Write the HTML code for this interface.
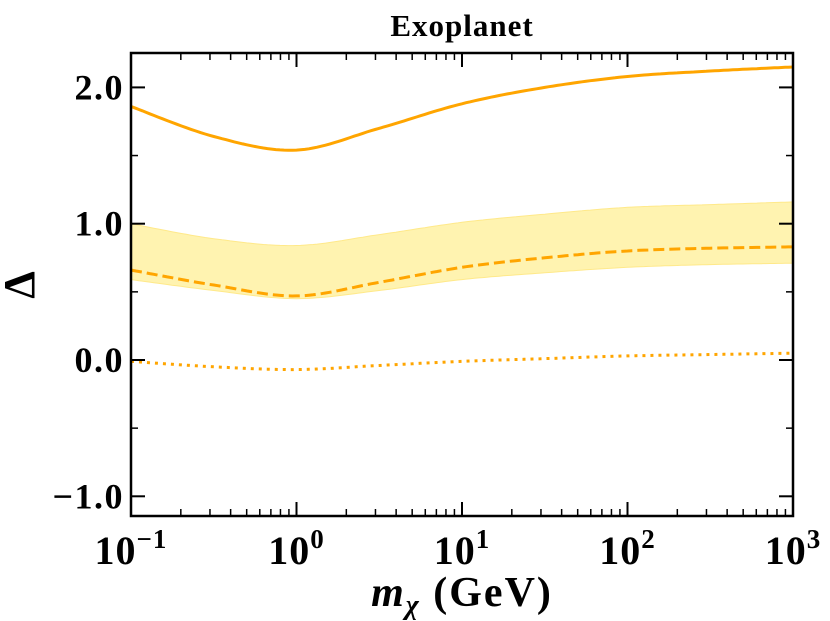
<!DOCTYPE html>
<html><head><meta charset="utf-8">
<style>
body{margin:0;background:#fff;}
svg{display:block;font-family:"Liberation Serif",serif;font-weight:bold;}
</style></head>
<body>
<svg id="chart" width="830" height="621" viewBox="0 0 830 621">
<text x="462" y="36" text-anchor="middle" font-size="31" letter-spacing="1">Exoplanet</text>
<g id="band"></g><g id="lines"></g><g id="ticks"></g>
<rect x="131" y="53" width="662" height="463" fill="none" stroke="#000" stroke-width="2.5"/>
<text x="462" y="606" text-anchor="middle" font-size="42" letter-spacing="2"><tspan font-style="italic">m</tspan><tspan font-style="italic" font-size="28" dy="8">χ</tspan><tspan dy="-8"> (GeV)</tspan></text>
<text x="34" y="285" text-anchor="middle" font-size="44" transform="rotate(-90 34 285)">Δ</text>
</svg>
<script>
const logMass = [-1,-0.5,0,0.5,1,1.5,2,2.5,3];
const solidVals = [1.86,1.64,1.54,1.70,1.88,2.00,2.08,2.12,2.15];
const dashedVals = [0.66,0.55,0.47,0.57,0.68,0.75,0.80,0.82,0.83];
const bandUpper = [1.00,0.89,0.84,0.92,1.01,1.07,1.12,1.14,1.16];
const bandLower = [0.59,0.51,0.45,0.51,0.59,0.64,0.68,0.70,0.71];
const dottedVals = [-0.01,-0.05,-0.07,-0.04,-0.01,0.01,0.03,0.04,0.05];
const yTicks = [-1,0,1,2];
const yTickLabels = ["\u22121.0","0.0","1.0","2.0"];
const xDecades = [-1,0,1,2,3];

const NS="http://www.w3.org/2000/svg";
const X0=131,X1=793,Y0=53,Y1=516;
const xs=v=>X0+(v+1)/4*(X1-X0);
const ys=v=>360-v*136.3;
function mk(tag,attrs,parent){const e=document.createElementNS(NS,tag);for(const k in attrs)e.setAttribute(k,attrs[k]);parent.appendChild(e);return e;}
function pts(vals){
  const out=[];const n=logMass.length;
  for(let i=0;i<n-1;i++){
    const p0=i>0?i-1:i,p3=i<n-2?i+2:i+1;
    for(let s=0;s<20;s++){const t=s/20;
      const f=(a,b,c,d)=>0.5*((2*b)+(-a+c)*t+(2*a-5*b+4*c-d)*t*t+(-a+3*b-3*c+d)*t*t*t);
      out.push([xs(f(logMass[p0],logMass[i],logMass[i+1],logMass[p3])),ys(f(vals[p0],vals[i],vals[i+1],vals[p3]))]);}
  }
  out.push([xs(logMass[n-1]),ys(vals[n-1])]);return out;
}
const toD=p=>p.map((q,i)=>(i?'L':'M')+q[0].toFixed(1)+' '+q[1].toFixed(1)).join(' ');
const band=document.getElementById('band'),lines=document.getElementById('lines'),ticks=document.getElementById('ticks');
const up=pts(bandUpper),lo=pts(bandLower).reverse();
const b=mk('path',{d:toD(up.concat(lo))+'Z',fill:'#fff3b0',stroke:'#ffe98a','stroke-width':1},band);


const s=mk('path',{d:toD(pts(solidVals)),fill:'none',stroke:'#ffa500','stroke-width':3},lines);


const d=mk('path',{d:toD(pts(dashedVals)),fill:'none',stroke:'#ffa500','stroke-width':3,'stroke-dasharray':'11 5'},lines);


const o=mk('path',{d:toD(pts(dottedVals)),fill:'none',stroke:'#ffa500','stroke-width':3,'stroke-dasharray':'3 5'},lines);


xDecades.forEach((dd,i)=>{
  const x=xs(dd);
  mk('line',{x1:x,x2:x,y1:Y1,y2:Y1-14,stroke:'#000','stroke-width':2},ticks);
  mk('line',{x1:x,x2:x,y1:Y0,y2:Y0+14,stroke:'#000','stroke-width':2},ticks);
  const t=mk('text',{x:x,y:564,'text-anchor':'middle','font-size':40,'letter-spacing':1},ticks);
  
  
  t.textContent='10';
  const sup=mk('tspan',{dy:-16,'font-size':27},t);sup.textContent=dd<0?'\u2212'+Math.abs(dd):String(dd);
  if(i<xDecades.length-1){for(let m=2;m<10;m++){const xm=xs(dd+Math.log10(m));
    mk('line',{x1:xm,x2:xm,y1:Y1,y2:Y1-7,stroke:'#000','stroke-width':1.5},ticks);
    mk('line',{x1:xm,x2:xm,y1:Y0,y2:Y0+7,stroke:'#000','stroke-width':1.5},ticks);}}
});
yTicks.forEach((v,i)=>{
  const y=ys(v);
  mk('line',{x1:X0,x2:X0+14,y1:y,y2:y,stroke:'#000','stroke-width':2},ticks);
  mk('line',{x1:X1,x2:X1-14,y1:y,y2:y,stroke:'#000','stroke-width':2},ticks);
  const t=mk('text',{x:124,y:y+12,'text-anchor':'end','font-size':36,'letter-spacing':1.5},ticks);
  
  
  t.textContent=yTickLabels[i];
});
for(let v=-1;v<=2.2;v+=0.5){if(Math.abs(v-Math.round(v))<0.01)continue;const y=ys(v);
  mk('line',{x1:X0,x2:X0+7,y1:y,y2:y,stroke:'#000','stroke-width':1.5},ticks);
  mk('line',{x1:X1,x2:X1-7,y1:y,y2:y,stroke:'#000','stroke-width':1.5},ticks);}
</script>
</body></html>
